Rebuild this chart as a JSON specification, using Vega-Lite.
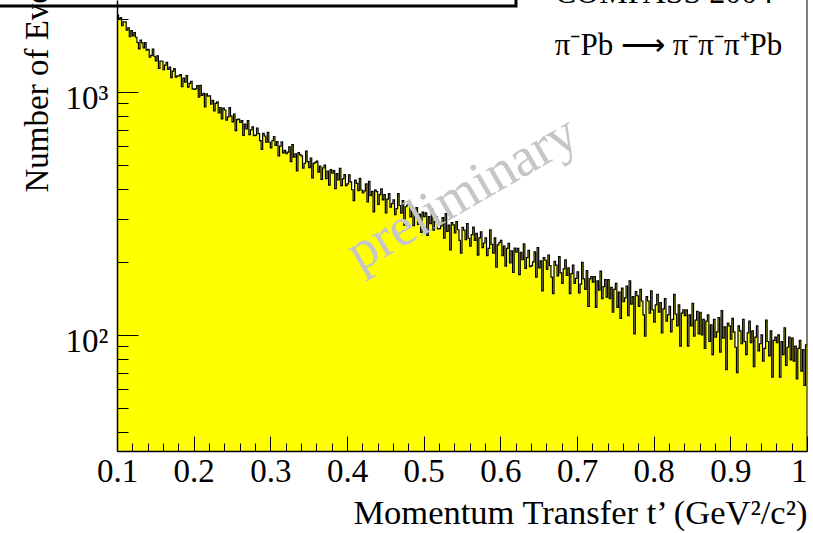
{
  "$schema": "https://vega.github.io/schema/vega-lite/v6.json",
  "width": 690,
  "height": 451,
  "autosize": "none",
  "padding": {"left": 117, "top": 0, "right": 6, "bottom": 82},
  "background": "white",
  "config": {"view": {"stroke": null}, "font": "Liberation Serif"},
  "resolve": {"axis": {"x": "independent", "y": "independent"}},
  "data": {"values": [
    {"t":0.100,"n":2070},{"t":0.102,"n":1993},{"t":0.104,"n":2022},{"t":0.106,"n":1873},{"t":0.108,"n":1945},{"t":0.110,"n":1942},{"t":0.112,"n":1795},{"t":0.114,"n":1835},{"t":0.116,"n":1688},{"t":0.118,"n":1790},
    {"t":0.120,"n":1700},{"t":0.122,"n":1757},{"t":0.124,"n":1680},{"t":0.126,"n":1598},{"t":0.128,"n":1505},{"t":0.130,"n":1635},{"t":0.132,"n":1592},{"t":0.134,"n":1517},{"t":0.136,"n":1596},{"t":0.138,"n":1486},
    {"t":0.140,"n":1499},{"t":0.142,"n":1390},{"t":0.144,"n":1414},{"t":0.146,"n":1502},{"t":0.148,"n":1403},{"t":0.150,"n":1343},{"t":0.152,"n":1410},{"t":0.154,"n":1249},{"t":0.156,"n":1341},{"t":0.158,"n":1338},
    {"t":0.160,"n":1237},{"t":0.162,"n":1291},{"t":0.164,"n":1323},{"t":0.166,"n":1238},{"t":0.168,"n":1265},{"t":0.170,"n":1145},{"t":0.172,"n":1219},{"t":0.174,"n":1247},{"t":0.176,"n":1152},{"t":0.178,"n":1164},
    {"t":0.180,"n":1166},{"t":0.182,"n":1179},{"t":0.184,"n":1052},{"t":0.186,"n":1142},{"t":0.188,"n":1098},{"t":0.190,"n":1169},{"t":0.192,"n":1048},{"t":0.194,"n":1085},{"t":0.196,"n":1107},{"t":0.198,"n":1029},
    {"t":0.200,"n":1025},{"t":0.202,"n":1030},{"t":0.204,"n":1063},{"t":0.206,"n":953},{"t":0.208,"n":1066},{"t":0.210,"n":969},{"t":0.212,"n":988},{"t":0.214,"n":869},{"t":0.216,"n":983},{"t":0.218,"n":961},
    {"t":0.220,"n":965},{"t":0.222,"n":891},{"t":0.224,"n":924},{"t":0.226,"n":835},{"t":0.228,"n":898},{"t":0.230,"n":910},{"t":0.232,"n":821},{"t":0.234,"n":862},{"t":0.236,"n":774},{"t":0.238,"n":859},
    {"t":0.240,"n":843},{"t":0.242,"n":766},{"t":0.244,"n":790},{"t":0.246,"n":862},{"t":0.248,"n":795},{"t":0.250,"n":753},{"t":0.252,"n":810},{"t":0.254,"n":693},{"t":0.256,"n":770},{"t":0.258,"n":773},
    {"t":0.260,"n":749},{"t":0.262,"n":762},{"t":0.264,"n":662},{"t":0.266,"n":738},{"t":0.268,"n":704},{"t":0.270,"n":763},{"t":0.272,"n":667},{"t":0.274,"n":699},{"t":0.276,"n":719},{"t":0.278,"n":661},
    {"t":0.280,"n":665},{"t":0.282,"n":711},{"t":0.284,"n":674},{"t":0.286,"n":631},{"t":0.288,"n":581},{"t":0.290,"n":676},{"t":0.292,"n":659},{"t":0.294,"n":622},{"t":0.296,"n":682},{"t":0.298,"n":621},
    {"t":0.300,"n":589},{"t":0.302,"n":630},{"t":0.304,"n":656},{"t":0.306,"n":603},{"t":0.308,"n":625},{"t":0.310,"n":546},{"t":0.312,"n":599},{"t":0.314,"n":623},{"t":0.316,"n":562},{"t":0.318,"n":575},
    {"t":0.320,"n":557},{"t":0.322,"n":566},{"t":0.324,"n":594},{"t":0.326,"n":517},{"t":0.328,"n":607},{"t":0.330,"n":539},{"t":0.332,"n":557},{"t":0.334,"n":473},{"t":0.336,"n":563},{"t":0.338,"n":552},
    {"t":0.340,"n":546},{"t":0.342,"n":486},{"t":0.344,"n":509},{"t":0.346,"n":571},{"t":0.348,"n":517},{"t":0.350,"n":488},{"t":0.352,"n":535},{"t":0.354,"n":443},{"t":0.356,"n":508},{"t":0.358,"n":513},
    {"t":0.360,"n":519},{"t":0.362,"n":468},{"t":0.364,"n":496},{"t":0.366,"n":437},{"t":0.368,"n":487},{"t":0.370,"n":500},{"t":0.372,"n":440},{"t":0.374,"n":473},{"t":0.376,"n":414},{"t":0.378,"n":479},
    {"t":0.380,"n":463},{"t":0.382,"n":475},{"t":0.384,"n":400},{"t":0.386,"n":461},{"t":0.388,"n":435},{"t":0.390,"n":485},{"t":0.392,"n":412},{"t":0.394,"n":439},{"t":0.396,"n":457},{"t":0.398,"n":412},
    {"t":0.400,"n":419},{"t":0.402,"n":456},{"t":0.404,"n":427},{"t":0.406,"n":396},{"t":0.408,"n":357},{"t":0.410,"n":434},{"t":0.412,"n":421},{"t":0.414,"n":393},{"t":0.416,"n":441},{"t":0.418,"n":395},
    {"t":0.420,"n":384},{"t":0.422,"n":392},{"t":0.424,"n":419},{"t":0.426,"n":353},{"t":0.428,"n":429},{"t":0.430,"n":374},{"t":0.432,"n":390},{"t":0.434,"n":321},{"t":0.436,"n":396},{"t":0.438,"n":389},
    {"t":0.440,"n":345},{"t":0.442,"n":378},{"t":0.444,"n":399},{"t":0.446,"n":360},{"t":0.448,"n":378},{"t":0.450,"n":318},{"t":0.452,"n":362},{"t":0.454,"n":382},{"t":0.456,"n":336},{"t":0.458,"n":347},
    {"t":0.460,"n":360},{"t":0.462,"n":313},{"t":0.464,"n":331},{"t":0.466,"n":382},{"t":0.468,"n":341},{"t":0.470,"n":317},{"t":0.472,"n":357},{"t":0.474,"n":283},{"t":0.476,"n":337},{"t":0.478,"n":342},
    {"t":0.480,"n":346},{"t":0.482,"n":306},{"t":0.484,"n":330},{"t":0.486,"n":282},{"t":0.488,"n":323},{"t":0.490,"n":334},{"t":0.492,"n":285},{"t":0.494,"n":314},{"t":0.496,"n":264},{"t":0.498,"n":320},
    {"t":0.500,"n":307},{"t":0.502,"n":318},{"t":0.504,"n":257},{"t":0.506,"n":307},{"t":0.508,"n":287},{"t":0.510,"n":329},{"t":0.512,"n":270},{"t":0.514,"n":293},{"t":0.516,"n":307},{"t":0.518,"n":273},
    {"t":0.520,"n":274},{"t":0.522,"n":281},{"t":0.524,"n":304},{"t":0.526,"n":250},{"t":0.528,"n":316},{"t":0.530,"n":267},{"t":0.532,"n":283},{"t":0.534,"n":224},{"t":0.536,"n":290},{"t":0.538,"n":284},
    {"t":0.540,"n":263},{"t":0.542,"n":293},{"t":0.544,"n":271},{"t":0.546,"n":245},{"t":0.548,"n":217},{"t":0.550,"n":277},{"t":0.552,"n":270},{"t":0.554,"n":247},{"t":0.556,"n":287},{"t":0.558,"n":250},
    {"t":0.560,"n":232},{"t":0.562,"n":259},{"t":0.564,"n":278},{"t":0.566,"n":245},{"t":0.568,"n":262},{"t":0.570,"n":213},{"t":0.572,"n":251},{"t":0.574,"n":266},{"t":0.576,"n":229},{"t":0.578,"n":239},
    {"t":0.580,"n":251},{"t":0.582,"n":212},{"t":0.584,"n":227},{"t":0.586,"n":271},{"t":0.588,"n":236},{"t":0.590,"n":217},{"t":0.592,"n":251},{"t":0.594,"n":190},{"t":0.596,"n":235},{"t":0.598,"n":240},
    {"t":0.600,"n":245},{"t":0.602,"n":212},{"t":0.604,"n":232},{"t":0.606,"n":192},{"t":0.608,"n":227},{"t":0.610,"n":238},{"t":0.612,"n":198},{"t":0.614,"n":222},{"t":0.616,"n":181},{"t":0.618,"n":228},
    {"t":0.620,"n":219},{"t":0.622,"n":227},{"t":0.624,"n":177},{"t":0.626,"n":219},{"t":0.628,"n":204},{"t":0.630,"n":237},{"t":0.632,"n":188},{"t":0.634,"n":208},{"t":0.636,"n":223},{"t":0.638,"n":191},
    {"t":0.640,"n":193},{"t":0.642,"n":200},{"t":0.644,"n":220},{"t":0.646,"n":173},{"t":0.648,"n":229},{"t":0.650,"n":189},{"t":0.652,"n":202},{"t":0.654,"n":152},{"t":0.656,"n":208},{"t":0.658,"n":203},
    {"t":0.660,"n":186},{"t":0.662,"n":213},{"t":0.664,"n":193},{"t":0.666,"n":173},{"t":0.668,"n":148},{"t":0.670,"n":201},{"t":0.672,"n":194},{"t":0.674,"n":175},{"t":0.676,"n":210},{"t":0.678,"n":180},
    {"t":0.680,"n":163},{"t":0.682,"n":187},{"t":0.684,"n":204},{"t":0.686,"n":176},{"t":0.688,"n":189},{"t":0.690,"n":148},{"t":0.692,"n":179},{"t":0.694,"n":194},{"t":0.696,"n":163},{"t":0.698,"n":171},
    {"t":0.700,"n":182},{"t":0.702,"n":149},{"t":0.704,"n":162},{"t":0.706,"n":199},{"t":0.708,"n":170},{"t":0.710,"n":154},{"t":0.712,"n":184},{"t":0.714,"n":131},{"t":0.716,"n":170},{"t":0.718,"n":174},
    {"t":0.720,"n":165},{"t":0.722,"n":174},{"t":0.724,"n":130},{"t":0.726,"n":167},{"t":0.728,"n":153},{"t":0.730,"n":183},{"t":0.732,"n":141},{"t":0.734,"n":158},{"t":0.736,"n":169},{"t":0.738,"n":143},
    {"t":0.740,"n":169},{"t":0.742,"n":141},{"t":0.744,"n":157},{"t":0.746,"n":124},{"t":0.748,"n":154},{"t":0.750,"n":163},{"t":0.752,"n":130},{"t":0.754,"n":150},{"t":0.756,"n":117},{"t":0.758,"n":156},
    {"t":0.760,"n":137},{"t":0.762,"n":142},{"t":0.764,"n":159},{"t":0.766,"n":120},{"t":0.768,"n":167},{"t":0.770,"n":134},{"t":0.772,"n":144},{"t":0.774,"n":101},{"t":0.776,"n":151},{"t":0.778,"n":145},
    {"t":0.780,"n":131},{"t":0.782,"n":154},{"t":0.784,"n":138},{"t":0.786,"n":121},{"t":0.788,"n":99},{"t":0.790,"n":144},{"t":0.792,"n":138},{"t":0.794,"n":123},{"t":0.796,"n":152},{"t":0.798,"n":127},
    {"t":0.800,"n":113},{"t":0.802,"n":133},{"t":0.804,"n":147},{"t":0.806,"n":124},{"t":0.808,"n":136},{"t":0.810,"n":102},{"t":0.812,"n":128},{"t":0.814,"n":141},{"t":0.816,"n":114},{"t":0.818,"n":121},
    {"t":0.820,"n":131},{"t":0.822,"n":103},{"t":0.824,"n":116},{"t":0.826,"n":147},{"t":0.828,"n":122},{"t":0.830,"n":109},{"t":0.832,"n":133},{"t":0.834,"n":90},{"t":0.836,"n":123},{"t":0.838,"n":127},
    {"t":0.840,"n":120},{"t":0.842,"n":127},{"t":0.844,"n":90},{"t":0.846,"n":121},{"t":0.848,"n":109},{"t":0.850,"n":135},{"t":0.852,"n":99},{"t":0.854,"n":115},{"t":0.856,"n":125},{"t":0.858,"n":101},
    {"t":0.860,"n":124},{"t":0.862,"n":100},{"t":0.864,"n":116},{"t":0.866,"n":88},{"t":0.868,"n":114},{"t":0.870,"n":121},{"t":0.872,"n":94},{"t":0.874,"n":110},{"t":0.876,"n":83},{"t":0.878,"n":116},
    {"t":0.880,"n":98},{"t":0.882,"n":103},{"t":0.884,"n":118},{"t":0.886,"n":85},{"t":0.888,"n":126},{"t":0.890,"n":97},{"t":0.892,"n":108},{"t":0.894,"n":72},{"t":0.896,"n":112},{"t":0.898,"n":109},
    {"t":0.900,"n":96},{"t":0.902,"n":117},{"t":0.904,"n":103},{"t":0.906,"n":89},{"t":0.908,"n":70},{"t":0.910,"n":109},{"t":0.912,"n":104},{"t":0.914,"n":92},{"t":0.916,"n":116},{"t":0.918,"n":94},
    {"t":0.920,"n":83},{"t":0.922,"n":102},{"t":0.924,"n":114},{"t":0.926,"n":93},{"t":0.928,"n":104},{"t":0.930,"n":74},{"t":0.932,"n":98},{"t":0.934,"n":109},{"t":0.936,"n":86},{"t":0.938,"n":92},
    {"t":0.940,"n":100},{"t":0.942,"n":78},{"t":0.944,"n":88},{"t":0.946,"n":115},{"t":0.948,"n":94},{"t":0.950,"n":82},{"t":0.952,"n":104},{"t":0.954,"n":67},{"t":0.956,"n":95},{"t":0.958,"n":98},
    {"t":0.960,"n":93},{"t":0.962,"n":100},{"t":0.964,"n":67},{"t":0.966,"n":94},{"t":0.968,"n":83},{"t":0.970,"n":107},{"t":0.972,"n":75},{"t":0.974,"n":89},{"t":0.976,"n":98},{"t":0.978,"n":79},
    {"t":0.980,"n":97},{"t":0.982,"n":78},{"t":0.984,"n":90},{"t":0.986,"n":66},{"t":0.988,"n":88},{"t":0.990,"n":95},{"t":0.992,"n":71},{"t":0.994,"n":87},{"t":0.996,"n":62},{"t":0.998,"n":91},
    {"t":1.000,"n":91}
  ]},
  "layer": [
    {
      "mark": {"type": "area", "interpolate": "step-after", "color": "#ffff00", "clip": true},
      "encoding": {
        "x": {
          "field": "t", "type": "quantitative",
          "scale": {"domain": [0.1, 1], "nice": false, "zero": false},
          "axis": {
            "orient": "bottom",
            "zindex": 1,
            "grid": false,
            "values": [0.1, 0.2, 0.3, 0.4, 0.5, 0.6, 0.7, 0.8, 0.9, 1.0],
            "format": ".1~f",
            "tickSize": -15,
            "tickColor": "black",
            "tickWidth": 1,
            "domainColor": "black",
            "domainWidth": 1.5,
            "labelFont": "Liberation Serif",
            "labelFontSize": 33,
            "labelColor": "black",
            "labelAlign": {"condition": {"test": "datum.value == 1", "value": "right"}, "value": "center"},
            "labelPadding": 19,
            "labelOverlap": false,
            "labelFlush": false,
            "labelBound": false,
            "title": "Momentum Transfer t’ (GeV²/c²)",
            "titleFont": "Liberation Serif",
            "titleFontSize": 34.5,
            "titleFontWeight": "normal",
            "titleColor": "black",
            "titleAnchor": "end",
            "titleAlign": "right",
            "titleBaseline": "alphabetic",
            "titleX": 690,
            "titleY": 72
          }
        },
        "y": {
          "field": "n", "type": "quantitative",
          "scale": {"type": "log", "domain": [33.3, 2391], "nice": false},
          "axis": {
            "orient": "left",
            "zindex": 1,
            "grid": false,
            "values": [100, 1000],
            "labelExpr": "datum.value == 100 ? '10²' : '10³'",
            "tickSize": -21,
            "tickColor": "black",
            "tickWidth": 1,
            "domainColor": "black",
            "domainWidth": 1.5,
            "labelFont": "Liberation Serif",
            "labelFontSize": 33,
            "labelColor": "black",
            "labelPadding": 30,
            "labelOffset": 7,
            "labelOverlap": false,
            "labelFlush": false,
            "labelBound": false,
            "title": "Number of Events",
            "titleFont": "Liberation Serif",
            "titleFontSize": 33,
            "titleFontWeight": "normal",
            "titleColor": "black",
            "titleAngle": 270,
            "titleAlign": "left",
            "titleBaseline": "alphabetic",
            "titleX": -70,
            "titleY": 192
          }
        },
        "y2": {"datum": 1}
      }
    },
    {
      "mark": {"type": "line", "interpolate": "step-after", "color": "black", "strokeWidth": 1.2, "clip": true},
      "encoding": {
        "x": {
          "field": "t", "type": "quantitative",
          "axis": {
            "orient": "bottom",
            "zindex": 1,
            "grid": false,
            "domain": false,
            "labels": false,
            "title": null,
            "values": [0.12,0.14,0.16,0.18,0.22,0.24,0.26,0.28,0.32,0.34,0.36,0.38,0.42,0.44,0.46,0.48,0.52,0.54,0.56,0.58,0.62,0.64,0.66,0.68,0.72,0.74,0.76,0.78,0.82,0.84,0.86,0.88,0.92,0.94,0.96,0.98],
            "tickSize": -8,
            "tickColor": "black",
            "tickWidth": 1
          }
        },
        "y": {
          "field": "n", "type": "quantitative",
          "axis": {
            "orient": "left",
            "zindex": 1,
            "grid": false,
            "domain": false,
            "labels": false,
            "title": null,
            "values": [40, 50, 60, 70, 80, 90, 200, 300, 400, 500, 600, 700, 800, 900, 2000],
            "tickSize": -11,
            "tickColor": "black",
            "tickWidth": 1
          }
        }
      }
    },
    {
      "data": {"values": [{"edge": 1}]},
      "mark": {"type": "rule", "color": "black", "strokeWidth": 1},
      "encoding": {"x": {"field": "edge", "type": "quantitative", "axis": null}}
    },
    {
      "data": {"values": [{"label": "preliminary"}]},
      "mark": {"type": "text", "font": "Liberation Serif", "fontSize": 55, "color": "#c6c6c6", "angle": 330, "align": "center", "baseline": "middle"},
      "encoding": {
        "x": {"datum": 0.55, "axis": null},
        "y": {"datum": 383, "axis": null},
        "text": {"field": "label"}
      }
    },
    {
      "data": {"values": [{"label": "π⁻Pb ⟶ π⁻π⁻π⁺Pb"}]},
      "mark": {"type": "text", "font": "Liberation Serif", "fontSize": 31, "color": "black", "align": "left", "baseline": "alphabetic"},
      "encoding": {
        "x": {"datum": 0.671, "axis": null},
        "y": {"datum": 1419, "axis": null},
        "text": {"field": "label"}
      }
    },
    {
      "data": {"values": [{"label": "COMPASS 2004"}]},
      "mark": {"type": "text", "font": "Liberation Serif", "fontSize": 32, "color": "black", "align": "left", "baseline": "alphabetic"},
      "encoding": {
        "x": {"datum": 0.671, "axis": null},
        "y": {"datum": 2323, "axis": null},
        "text": {"field": "label"}
      }
    },
    {
      "data": {"values": [{"box": "title"}]},
      "mark": {"type": "rect", "fill": "white", "stroke": "black", "strokeWidth": 3},
      "encoding": {
        "x": {"datum": -0.06, "axis": null},
        "x2": {"datum": 0.6204},
        "y": {"datum": 2259, "axis": null},
        "y2": {"datum": 100000}
      }
    }
  ]
}
